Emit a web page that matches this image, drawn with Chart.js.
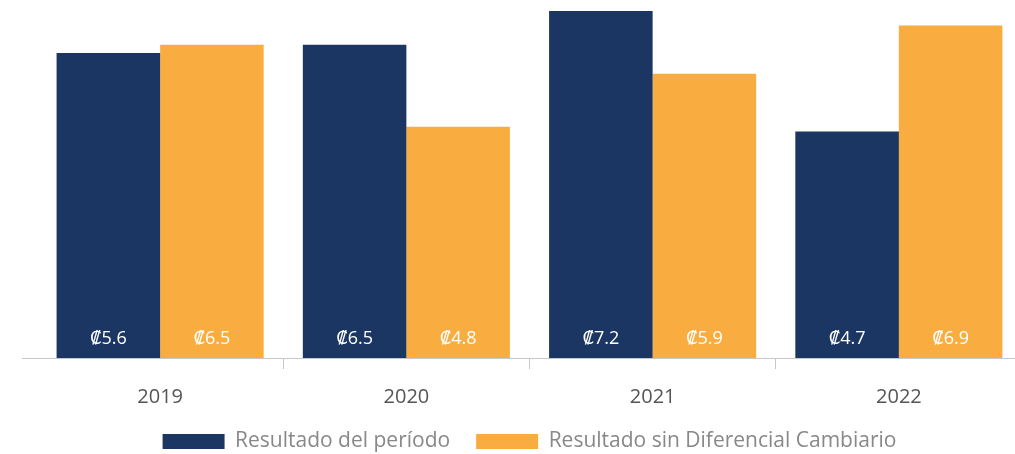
<!DOCTYPE html>
<html>
<head>
<meta charset="utf-8">
<script src="https://cdn.jsdelivr.net/npm/chart.js@4.4.1/dist/chart.umd.min.js"></script>
<style>
html,body{margin:0;padding:0;background:#fff;overflow:hidden;}
#wrap{position:relative;width:1030px;height:462px;}
</style>
</head>
<body>
<div id="wrap"><canvas id="c"></canvas></div>
<script>
const categories = ["2019", "2020", "2021", "2022"];
const seriesNames = ["Resultado del período", "Resultado sin Diferencial Cambiario"];
const resultadoPeriodo = [6.33, 6.5, 7.2, 4.7];
const resultadoSinDif = [6.5, 4.8, 5.9, 6.9];
const labelsPeriodo = ["₡5.6", "₡6.5", "₡7.2", "₡4.7"];
const labelsSinDif = ["₡6.5", "₡4.8", "₡5.9", "₡6.9"];

const NAVY = "#1c3664";
const ORANGE = "#f9ad40";
const FONT = "'Open Sans', 'DejaVu Sans', sans-serif";

const valueLabels = {
  id: "valueLabels",
  afterDatasetsDraw(chart) {
    const ctx = chart.ctx;
    const texts = [labelsPeriodo, labelsSinDif];
    ctx.save();
    ctx.fillStyle = "#ffffff";
    ctx.font = "18px " + FONT;
    ctx.textAlign = "center";
    ctx.textBaseline = "middle";
    chart.data.datasets.forEach((ds, i) => {
      chart.getDatasetMeta(i).data.forEach((bar, j) => {
        ctx.fillText(texts[i][j], bar.x, bar.base - 19);
      });
    });
    ctx.restore();
  }
};

const axisExtend = {
  id: "axisExtend",
  afterDraw(chart) {
    const a = chart.chartArea;
    const ctx = chart.ctx;
    ctx.save();
    ctx.strokeStyle = "#c8c8c8";
    ctx.lineWidth = 1;
    ctx.beginPath();
    ctx.moveTo(a.left - 15, a.bottom + 0.5);
    ctx.lineTo(a.left, a.bottom + 0.5);
    ctx.stroke();
    ctx.restore();
  }
};

new Chart(document.getElementById("c"), {
  type: "bar",
  data: {
    labels: categories,
    datasets: [
      { label: seriesNames[0], data: resultadoPeriodo, backgroundColor: NAVY, borderWidth: 0 },
      { label: seriesNames[1], data: resultadoSinDif, backgroundColor: ORANGE, borderWidth: 0 }
    ]
  },
  options: {
    responsive: true,
    maintainAspectRatio: false,
    animation: false,
    layout: { padding: { left: 37, right: 8, top: 0, bottom: 0 } },
    datasets: { bar: { barPercentage: 1.0, categoryPercentage: 0.841 } },
    scales: {
      x: {
        afterFit: (scale) => { scale.height -= 20; },
        grid: {
          drawOnChartArea: false,
          tickLength: 11,
          color: (c) => (c.index === 0 ? "rgba(0,0,0,0)" : "#c8c8c8"),
          lineWidth: 1
        },
        border: { display: true, color: "#c8c8c8" },
        ticks: { color: "#555555", font: { family: FONT, size: 20, lineHeight: 1 }, padding: 18 }
      },
      y: { display: false, min: 0, max: 7.43 }
    },
    plugins: {
      legend: {
        position: "bottom",
        align: "center",
        labels: {
          boxWidth: 62,
          boxHeight: 15,
          color: "#888888",
          padding: 26,
          font: { family: FONT, size: 21 }
        }
      },
      tooltip: { enabled: false }
    }
  },
  plugins: [valueLabels, axisExtend]
});
</script>
</body>
</html>
